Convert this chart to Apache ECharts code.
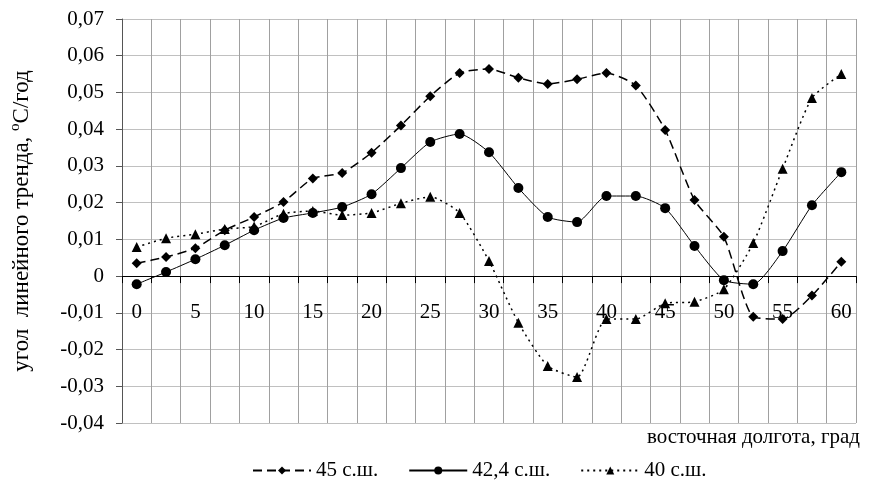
<!DOCTYPE html>
<html>
<head>
<meta charset="utf-8">
<script src="https://cdn.jsdelivr.net/npm/echarts@6/dist/echarts.min.js"></script>
<style>
  html, body { margin: 0; padding: 0; background: #fff; }
  #chart { width: 870px; height: 487px; }
</style>
</head>
<body>
<div id="chart"></div>
<script>
// longitude, degrees east (step 2.5)
var categories = ['0', '2,5', '5', '7,5', '10', '12,5', '15', '17,5', '20', '22,5', '25', '27,5',
	'30', '32,5', '35', '37,5', '40', '42,5', '45', '47,5', '50', '52,5', '55', '57,5', '60'];

// linear trend, °C/year
var lat45 = [0.0035, 0.0052, 0.0076, 0.0125, 0.0161, 0.0202, 0.0266, 0.0281, 0.0336, 0.041, 0.049, 0.0553,
	0.0564, 0.054, 0.0523, 0.0536, 0.0553, 0.0519, 0.0398, 0.0207, 0.0107, -0.0111, -0.0117, -0.0053, 0.0039];
var lat424 = [-0.0022, 0.0011, 0.0046, 0.0084, 0.0125, 0.0158, 0.0172, 0.0188, 0.0223, 0.0294, 0.0365, 0.0387,
	0.0337, 0.024, 0.0161, 0.0147, 0.0218, 0.0218, 0.0185, 0.0082, -0.0011, -0.0022, 0.0068, 0.0193, 0.0283];
var lat40 = [0.0079, 0.0103, 0.0114, 0.0128, 0.0135, 0.017, 0.0177, 0.0166, 0.0172, 0.0198, 0.0216, 0.0172,
	0.0041, -0.0127, -0.0245, -0.0275, -0.0117, -0.0117, -0.0074, -0.007, -0.0036, 0.009, 0.0292, 0.0485, 0.055];

var seriesNames = ['45 с.ш.', '42,4 с.ш.', '40 с.ш.'];

var yMin = -0.04, yMax = 0.07;

var font = '"Liberation Serif", "Times New Roman", serif';

var gridTop = 19, gridBottom = 64, chartH = 487;
// move the category axis up to the zero line of the value axis
var plotH = chartH - gridTop - gridBottom;
var zeroOffset = -plotH * (0 - yMin) / (yMax - yMin);

function makeSeries(name, data, symbol, lineType, width) {
	return {
		name: name,
		type: 'line',
		data: data,
		smooth: 0.2,
		symbol: symbol,
		symbolSize: 10,
		color: '#000',
		itemStyle: { color: '#000' },
		lineStyle: { color: '#000', width: width, type: lineType },
		emphasis: { disabled: true }
	};
}

var chart = echarts.init(document.getElementById('chart'), null, { renderer: 'canvas' });

var option = {
	animation: false,
	backgroundColor: '#fff',
	textStyle: { fontFamily: font },
	grid: { left: 122, right: 14, top: gridTop, bottom: gridBottom },
	xAxis: {
		type: 'category',
		data: categories,
		boundaryGap: true,
		offset: zeroOffset,
		axisLine: { onZero: false, lineStyle: { color: '#000', width: 1 } },
		axisTick: { show: true, interval: 0, length: 7, lineStyle: { color: '#000' } },
		axisLabel: { interval: 1, margin: 26, color: '#000', fontSize: 21, fontFamily: font },
		splitLine: { show: true, interval: 0, lineStyle: { color: '#a0a0a0', width: 1 } }
	},
	yAxis: {
		type: 'value',
		min: yMin,
		max: yMax,
		interval: 0.01,
		name: '{a|угол  линейного тренда, }{s|o}{a|C/год}',
		nameLocation: 'middle',
		nameRotate: 90,
		nameGap: 86,
		nameTextStyle: {
			rich: {
				a: { fontSize: 23, fontFamily: font, color: '#000', lineHeight: 28 },
				s: { fontSize: 15, fontFamily: font, color: '#000', lineHeight: 28, verticalAlign: 'top' }
			}
		},
		axisLine: { show: true, lineStyle: { color: '#555', width: 1 } },
		axisTick: { show: true, length: 6, lineStyle: { color: '#555' } },
		axisLabel: {
			margin: 18,
			color: '#000',
			fontSize: 21,
			fontFamily: font,
			formatter: function(v) {
				var r = Math.round(v * 100) / 100;
				if (r === 0) return '0';
				return r.toFixed(2).replace('.', ',');
			}
		},
		splitLine: { show: true, lineStyle: { color: '#c0c0c0', width: 1 } }
	},
	legend: {
		data: seriesNames,
		bottom: 1,
		left: 247,
		itemWidth: 58,
		itemHeight: 10,
		itemGap: 30,
		textStyle: { fontSize: 21, fontFamily: font, color: '#000' }
	},
	graphic: [{
		type: 'text',
		right: 10,
		top: 427,
		style: { text: 'восточная долгота, град', font: '21px ' + font, fill: '#000' }
	}],
	series: [
		makeSeries(seriesNames[0], lat45, 'diamond', [9, 5], 1.5),
		makeSeries(seriesNames[1], lat424, 'circle', 'solid', 1),
		makeSeries(seriesNames[2], lat40, 'triangle', [2, 4], 1.5)
	]
};

chart.setOption(option);
</script>
</body>
</html>
